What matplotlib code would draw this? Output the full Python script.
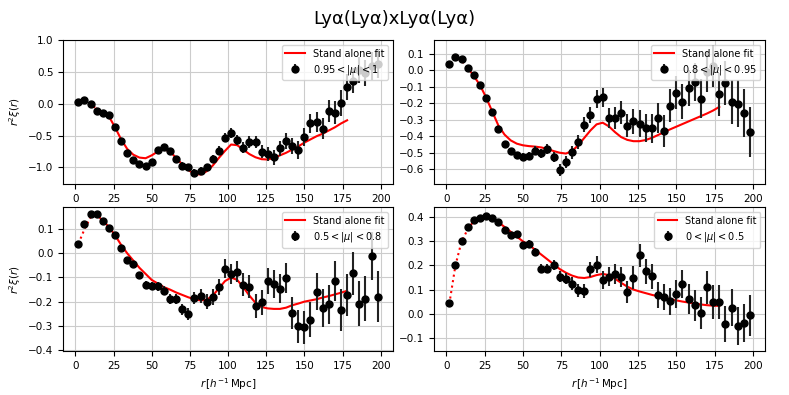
import matplotlib
matplotlib.use("Agg")
import matplotlib.pyplot as plt
import numpy as np

# separation bins (h^-1 Mpc)
r_data = [2, 6, 10, 14, 18, 22, 26, 30, 34, 38, 42, 46, 50, 54, 58, 62, 66, 70, 74, 78,
          82, 86, 90, 94, 98, 102, 106, 110, 114, 118, 122, 126, 130, 134, 138, 142, 146,
          150, 154, 158, 162, 166, 170, 174, 178, 182, 186, 190, 194, 198]
r_fit = r_data[:45]   # fit goes up to 178

labels = [r'$0.95 < |\mu| < 1$', r'$0.8 < |\mu| < 0.95$',
          r'$0.5 < |\mu| < 0.8$', r'$0 < |\mu| < 0.5$']

xi_1 = [0.03, 0.05, -0.01, -0.11, -0.14, -0.18, -0.37, -0.59, -0.77, -0.89, -0.95, -0.97,
        -0.92, -0.73, -0.68, -0.74, -0.86, -0.97, -1.00, -1.08, -1.06, -1.00, -0.87, -0.74,
        -0.53, -0.46, -0.57, -0.69, -0.60, -0.60, -0.75, -0.79, -0.84, -0.70, -0.58, -0.66,
        -0.72, -0.52, -0.31, -0.29, -0.39, -0.12, -0.14, 0.01, 0.26, 0.36, 0.53, 0.48, 0.59, 0.62]
err_1 = [0.02, 0.02, 0.02, 0.02, 0.025, 0.025, 0.03, 0.03, 0.03, 0.03, 0.03, 0.035, 0.035,
         0.04, 0.04, 0.045, 0.045, 0.05, 0.05, 0.055, 0.06, 0.06, 0.065, 0.07, 0.075, 0.08,
         0.085, 0.09, 0.095, 0.1, 0.1, 0.11, 0.115, 0.12, 0.125, 0.13, 0.14, 0.145, 0.15, 0.16,
         0.165, 0.17, 0.18, 0.2, 0.2, 0.2, 0.2, 0.21, 0.22, 0.22]
fit_1 = [0.03, 0.04, -0.01, -0.08, -0.14, -0.20, -0.37, -0.56, -0.71, -0.80, -0.845, -0.855,
         -0.81, -0.75, -0.715, -0.75, -0.85, -0.95, -1.04, -1.10, -1.11, -1.06, -0.97, -0.85,
         -0.74, -0.64, -0.65, -0.72, -0.79, -0.84, -0.87, -0.875, -0.85, -0.81, -0.77, -0.72,
         -0.67, -0.61, -0.56, -0.51, -0.47, -0.42, -0.37, -0.31, -0.26]

xi_2 = [0.04, 0.08, 0.067, 0.014, -0.028, -0.087, -0.168, -0.255, -0.354, -0.447, -0.487,
        -0.515, -0.523, -0.521, -0.487, -0.503, -0.479, -0.525, -0.606, -0.558, -0.497,
        -0.436, -0.331, -0.271, -0.174, -0.164, -0.289, -0.289, -0.257, -0.335, -0.309,
        -0.323, -0.351, -0.351, -0.289, -0.368, -0.216, -0.135, -0.19, -0.109, -0.071,
        -0.172, -0.012, 0.026, -0.145, -0.077, -0.192, -0.202, -0.257, -0.374]
err_2 = [0.01, 0.01, 0.01, 0.012, 0.012, 0.013, 0.014, 0.015, 0.016, 0.017, 0.018, 0.02,
         0.022, 0.024, 0.026, 0.028, 0.03, 0.032, 0.035, 0.037, 0.04, 0.042, 0.045, 0.05,
         0.055, 0.058, 0.062, 0.066, 0.07, 0.072, 0.075, 0.08, 0.085, 0.088, 0.09, 0.095,
         0.1, 0.1, 0.105, 0.11, 0.115, 0.12, 0.12, 0.125, 0.13, 0.135, 0.135, 0.14, 0.145, 0.15]
fit_2 = [0.04, 0.075, 0.06, 0.015, -0.035, -0.09, -0.165, -0.25, -0.335, -0.39, -0.425,
         -0.445, -0.455, -0.46, -0.463, -0.468, -0.477, -0.49, -0.5, -0.505, -0.49, -0.455,
         -0.41, -0.365, -0.328, -0.318, -0.34, -0.375, -0.405, -0.422, -0.43, -0.43, -0.423,
         -0.41, -0.393, -0.375, -0.358, -0.342, -0.326, -0.31, -0.294, -0.278, -0.262,
         -0.244, -0.222]

xi_3 = [0.039, 0.12, 0.163, 0.163, 0.133, 0.104, 0.075, 0.022, -0.029, -0.044, -0.091,
        -0.129, -0.136, -0.137, -0.155, -0.19, -0.19, -0.231, -0.251, -0.184, -0.176, -0.2,
        -0.181, -0.14, -0.064, -0.086, -0.076, -0.129, -0.138, -0.217, -0.202, -0.114,
        -0.127, -0.147, -0.103, -0.247, -0.302, -0.307, -0.274, -0.158, -0.227, -0.211,
        -0.114, -0.235, -0.173, -0.083, -0.209, -0.187, -0.01, -0.179]
err_3 = [0.008, 0.008, 0.008, 0.008, 0.009, 0.009, 0.01, 0.01, 0.011, 0.012, 0.013, 0.014,
         0.016, 0.017, 0.018, 0.02, 0.021, 0.023, 0.025, 0.026, 0.028, 0.03, 0.032, 0.034,
         0.04, 0.042, 0.044, 0.046, 0.048, 0.05, 0.052, 0.055, 0.058, 0.06, 0.063, 0.066,
         0.068, 0.07, 0.073, 0.075, 0.078, 0.08, 0.083, 0.086, 0.088, 0.09, 0.093, 0.095,
         0.1, 0.105]
fit_3 = [0.04, 0.1, 0.15, 0.16, 0.135, 0.11, 0.075, 0.035, 0.0, -0.03, -0.06, -0.085,
         -0.11, -0.125, -0.14, -0.15, -0.162, -0.172, -0.182, -0.19, -0.195, -0.192, -0.175,
         -0.145, -0.115, -0.1, -0.11, -0.14, -0.175, -0.205, -0.222, -0.228, -0.23, -0.23,
         -0.225, -0.215, -0.208, -0.2, -0.195, -0.19, -0.183, -0.177, -0.17, -0.163, -0.155]

xi_4 = [0.042, 0.204, 0.302, 0.36, 0.388, 0.396, 0.407, 0.397, 0.381, 0.349, 0.325, 0.332,
        0.283, 0.289, 0.256, 0.187, 0.187, 0.201, 0.154, 0.145, 0.125, 0.097, 0.093, 0.184,
        0.204, 0.14, 0.154, 0.165, 0.152, 0.09, 0.15, 0.242, 0.175, 0.155, 0.078, 0.069,
        0.051, 0.08, 0.123, 0.061, 0.035, 0.004, 0.109, 0.048, 0.048, -0.044, 0.025, -0.051,
        -0.039, -0.007]
err_4 = [0.006, 0.006, 0.006, 0.007, 0.007, 0.007, 0.008, 0.008, 0.009, 0.01, 0.011, 0.012,
         0.014, 0.015, 0.016, 0.018, 0.019, 0.02, 0.022, 0.024, 0.026, 0.028, 0.03, 0.032,
         0.035, 0.037, 0.039, 0.041, 0.043, 0.045, 0.047, 0.049, 0.05, 0.052, 0.054, 0.056,
         0.057, 0.058, 0.06, 0.062, 0.064, 0.066, 0.068, 0.07, 0.072, 0.074, 0.076, 0.078,
         0.08, 0.085]
fit_4 = [0.04, 0.2, 0.3, 0.35, 0.385, 0.397, 0.402, 0.395, 0.38, 0.36, 0.34, 0.32, 0.3,
         0.285, 0.265, 0.245, 0.225, 0.205, 0.185, 0.17, 0.158, 0.15, 0.148, 0.152, 0.16,
         0.165, 0.16, 0.145, 0.128, 0.112, 0.1, 0.092, 0.085, 0.078, 0.072, 0.066, 0.06,
         0.055, 0.05, 0.046, 0.042, 0.038, 0.035, 0.033, 0.032]

yticks_1 = [-1.0, -0.5, 0.0, 0.5, 1.0]
yticks_2 = [-0.6, -0.5, -0.4, -0.3, -0.2, -0.1, 0.0, 0.1]
yticks_3 = [-0.4, -0.3, -0.2, -0.1, 0.0, 0.1]
yticks_4 = [-0.1, 0.0, 0.1, 0.2, 0.3, 0.4]

panels = [(xi_1, err_1, fit_1, (-1.26, 1.0), yticks_1),
          (xi_2, err_2, fit_2, (-0.69, 0.184), yticks_2),
          (xi_3, err_3, fit_3, (-0.405, 0.192), yticks_3),
          (xi_4, err_4, fit_4, (-0.156, 0.443), yticks_4)]

positions = [[0.080, 0.534, 0.418, 0.365],
             [0.550, 0.534, 0.420, 0.365],
             [0.080, 0.111, 0.418, 0.365],
             [0.550, 0.111, 0.420, 0.365]]

fig = plt.figure(figsize=(7.89, 3.95), dpi=100)
fig.suptitle('Lyα(Lyα)xLyα(Lyα)', fontsize=13, y=0.975)

rf = np.array(r_fit)
for i, (xi, err, fit, ylim, yt) in enumerate(panels):
    ax = fig.add_axes(positions[i])
    ax.grid(True, color='#cccccc', lw=0.8)
    ax.set_axisbelow(True)
    fit = np.array(fit)
    ax.plot(rf[rf <= 14], fit[rf <= 14], ls=':', color='red', lw=1.5)
    ax.plot(rf[rf >= 14], fit[rf >= 14], color='red', lw=1.5, label='Stand alone fit')
    ax.errorbar(r_data, xi, yerr=err, fmt='o', color='black', ms=5,
                elinewidth=1.5, ecolor='#222222', label=labels[i])
    ax.set_xlim(-8, 208)
    ax.set_ylim(*ylim)
    ax.set_xticks([0, 25, 50, 75, 100, 125, 150, 175, 200])
    ax.set_yticks(yt)
    ax.tick_params(labelsize=7.5)
    ax.legend(loc='upper right', fontsize=7, handlelength=2, borderpad=0.4,
              labelspacing=0.4, framealpha=0.8)
    if i % 2 == 0:
        ax.set_ylabel(r'$r^2\xi(r)$', fontsize=7.5)
    if i >= 2:
        ax.set_xlabel(r'$r\,[h^{-1}\,\mathrm{Mpc}]$', fontsize=7.5)

fig.savefig('out.png', dpi=100)
